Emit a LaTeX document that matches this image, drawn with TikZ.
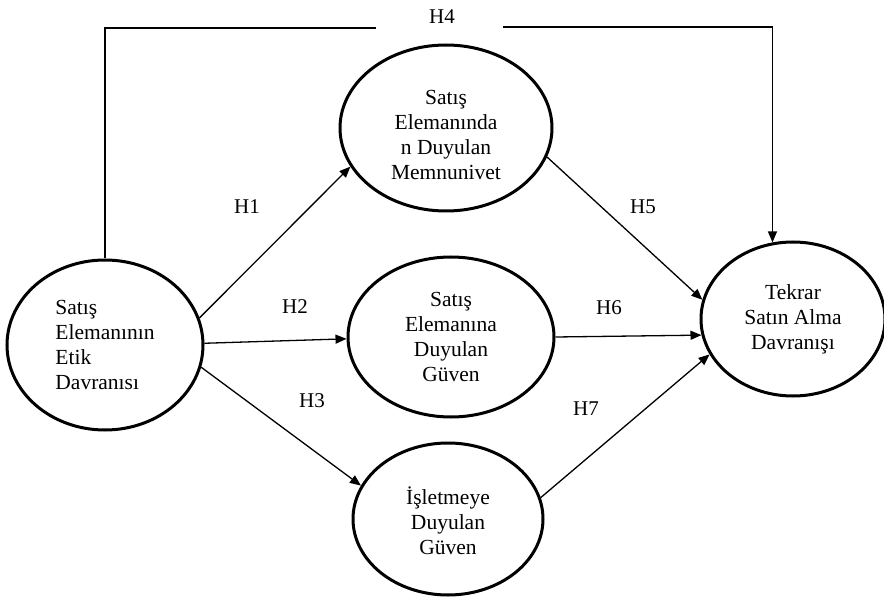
\documentclass[tikz,border=0pt]{standalone}
\usepackage{fontspec}
\setmainfont{Liberation Serif}
\usetikzlibrary{shapes.geometric,arrows.meta}
\begin{document}
\begin{tikzpicture}[x=1pt,y=-1pt,
  construct/.style={ellipse,draw,line width=3pt,inner sep=0pt,align=center,
    font=\fontsize{21.5}{25}\selectfont},
  conn/.style={line width=1.3pt},
  arr/.style={conn,-{Triangle[length=11pt,width=9pt]}},
  hlabel/.style={font=\fontsize{21}{25}\selectfont,inner sep=0pt}]
\useasboundingbox (0,0) rectangle (884,604);
\node[construct,minimum width=196pt,minimum height=170pt,align=left] (L) at (105,345)
  {Satış\\Elemanının\\Etik\\Davranısı};
\node[construct,minimum width=212pt,minimum height=166pt] (T) at (446,128)
  {\rule{0pt}{28pt}Satış\\Elemanında\\n Duyulan\\Memnunivet};
\node[construct,minimum width=206pt,minimum height=160pt] (M) at (451,337)
  {Satış\\Elemanına\\Duyulan\\Güven};
\node[construct,minimum width=190pt,minimum height=152pt] (B) at (448,519)
  {\rule{0pt}{22pt}İşletmeye\\Duyulan\\Güven};
\node[construct,minimum width=184pt,minimum height=154pt] (R) at (793,319)
  {Tekrar\\Satın Alma\\Davranışı};

\draw[arr] (L.16) -- (T.202);
\draw[arr] (L.1) -- (M.181);
\draw[arr] (L.-13) -- (B.159);
\draw[arr] (T.-16) -- (R.168);
\draw[arr] (M.east) -- (R.190);
\draw[arr] (B.13) -- (R.203);

\coordinate (h4l) at (376,28);
\coordinate (h4r) at (503,27);
\draw[conn] (L.north) |- (h4l);
\draw[arr] (h4r) -| (R.105);

\node[hlabel] (H1) at (247,207) {H1};
\node[hlabel] (H2) at (295,307) {H2};
\node[hlabel] (H3) at (312,401) {H3};
\node[hlabel] (H4) at (442,17) {H4};
\node[hlabel] (H5) at (643,207) {H5};
\node[hlabel] (H6) at (609,308) {H6};
\node[hlabel] (H7) at (586,409) {H7};
\end{tikzpicture}
\end{document}
